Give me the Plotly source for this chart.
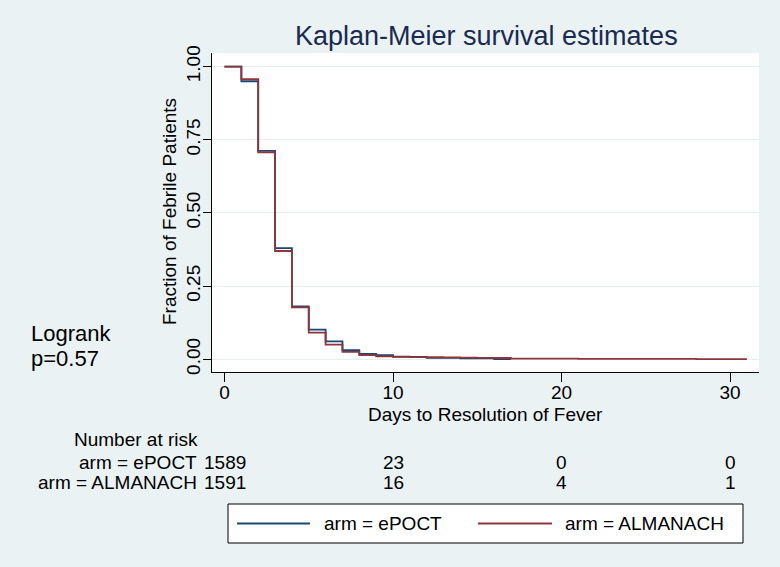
import plotly.graph_objects as go

# ---- data ----
epoct_t = [0, 1, 2, 3, 4, 5, 6, 7, 8, 9, 10, 11, 12, 14, 16, 17]
epoct_s = [1.0, 0.950, 0.712, 0.380, 0.181, 0.101, 0.061, 0.031, 0.018, 0.0145,
           0.009, 0.0085, 0.0045, 0.0035, 0.0006, 0.0006]
alm_t = [0, 1, 2, 3, 4, 5, 6, 7, 8, 9, 10, 11, 12, 13, 14, 15, 16, 17, 20, 21, 28, 31]
alm_s = [1.0, 0.957, 0.707, 0.370, 0.177, 0.091, 0.050, 0.025, 0.014, 0.0101,
         0.0082, 0.0075, 0.0069, 0.0063, 0.0057, 0.005, 0.0044, 0.0025,
         0.0019, 0.0013, 0.0006, 0.0006]
risk_times = [0, 10, 20, 30]
risk_epoct = [1589, 23, 0, 0]
risk_alm = [1591, 16, 4, 1]
y_ticks = [0, 0.25, 0.5, 0.75, 1.0]
x_ticks = [0, 10, 20, 30]
series_names = ["arm = ePOCT", "arm = ALMANACH"]

NAVY = "#1a476f"
MAROON = "#90353b"
BG = "#EAF2F3"
FONT = "Liberation Sans, Arial, Helvetica, sans-serif"
FS = 19

# plot area in pixels
L, R, T, B = 212, 759, 53, 372
W, H = R - L, B - T


def px(x):
    return (x - L) / W


def py(y):
    return (B - y) / H


fig = go.Figure()
fig.add_trace(go.Scatter(x=epoct_t, y=epoct_s, mode="lines", line_shape="hv",
                         line=dict(color=NAVY, width=1.8), name=series_names[0],
                         showlegend=False))
fig.add_trace(go.Scatter(x=alm_t, y=alm_s, mode="lines", line_shape="hv",
                         line=dict(color=MAROON, width=1.8), name=series_names[1],
                         showlegend=False))

annotations = []
shapes = []


def txt(text, x, y, xanchor="center", size=FS, color="black", angle=0, xref="paper"):
    annotations.append(dict(text=text, xref=xref, yref="paper", x=x, y=y,
                            xanchor=xanchor, yanchor="middle", textangle=angle,
                            showarrow=False, font=dict(size=size, color=color, family=FONT)))


# title
txt("Kaplan-Meier survival estimates", px(486), py(36), size=27, color="#1a2a50")
# axis titles
txt("Days to Resolution of Fever", px(485), py(414))
txt("Fraction of Febrile Patients", px(169), py(212), angle=-90)
# logrank
txt("Logrank", px(29), py(333), xanchor="left", size=22)
txt("p=0.57", px(29), py(358), xanchor="left", size=22)
# number at risk
txt("Number at risk", px(72), py(439), xanchor="left")
row_y = [462, 482]
for name, vals, yy in zip(series_names, [risk_epoct, risk_alm], row_y):
    txt(name, px(199), py(yy), xanchor="right")
    for t, v in zip(risk_times, vals):
        txt(str(v), t, py(yy), xref="x")

# legend (manual)
shapes.append(dict(type="rect", xref="paper", yref="paper",
                   x0=px(228), x1=px(743), y0=py(504), y1=py(543),
                   fillcolor="white", line=dict(color="black", width=1), layer="below"))
leg_items = [(237, 310, 322, NAVY), (478, 552, 563, MAROON)]
for (lx0, lx1, tx, col), name in zip(leg_items, series_names):
    shapes.append(dict(type="line", xref="paper", yref="paper",
                       x0=px(lx0), x1=px(lx1), y0=py(523.5), y1=py(523.5),
                       line=dict(color=col, width=1.8)))
    txt(name, px(tx), py(523.5), xanchor="left")

fig.update_layout(
    width=780, height=567,
    margin=dict(l=L, r=780 - R, t=T, b=567 - B, pad=0),
    paper_bgcolor=BG, plot_bgcolor="white",
    font=dict(family=FONT, size=FS, color="black"),
    annotations=annotations, shapes=shapes,
    showlegend=False,
)
fig.update_xaxes(range=[-0.742, 31.72], tickvals=x_ticks, ticktext=[str(v) for v in x_ticks],
                 showgrid=False, zeroline=False, showline=True, linecolor="black", linewidth=1,
                 ticks="outside", ticklen=9, tickcolor="black", tickwidth=1,
                 ticklabelstandoff=-6,
                 tickfont=dict(size=FS, color="black", family=FONT))
fig.update_yaxes(range=[-0.0435, 1.0465], tickvals=y_ticks,
                 ticktext=[f"{v:.2f}" for v in y_ticks], tickangle=-90,
                 showgrid=True, gridcolor="#E6EEF0", gridwidth=1.2,
                 zeroline=False, showline=True, linecolor="black", linewidth=1,
                 ticks="outside", ticklen=8, tickcolor="black", tickwidth=1,
                 ticklabelstandoff=-5,
                 tickfont=dict(size=FS, color="black", family=FONT))

fig.write_html("out.html", config={"displayModeBar": False},
               post_script="document.body.style.margin='0';document.body.style.padding='0';")
